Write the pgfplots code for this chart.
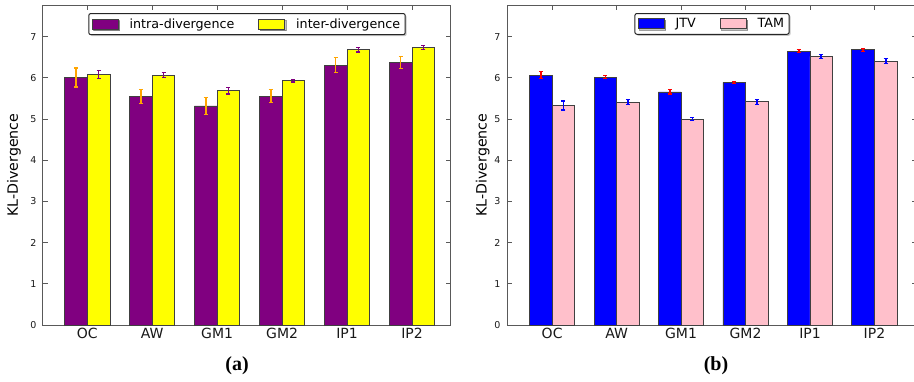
\documentclass[border=0pt]{standalone}
\usepackage{fontspec}
\setmainfont{DejaVu Sans}
\newfontfamily\capfont{Liberation Serif}
\usepackage{pgfplots}
\pgfplotsset{compat=1.18}
\usetikzlibrary{shadows}
\definecolor{mpurple}{RGB}{128,0,128}
\definecolor{myellow}{RGB}{255,255,0}
\definecolor{mblue}{RGB}{0,0,255}
\definecolor{mpink}{RGB}{255,192,203}
\definecolor{morange}{RGB}{255,165,0}
\definecolor{mred}{RGB}{255,0,0}
\pgfplotsset{
  kl/.style={
    scale only axis, height=320pt, ymin=0, ymax=7.77,
    ybar=0pt, bar width=0.35,
    xtick={0,1,2,3,4,5}, xticklabels={OC,AW,GM1,GM2,IP1,IP2},
    ytick={0,1,2,3,4,5,6,7},
    tick align=inside, major tick length=5pt,
    axis line style={black!65, line width=1pt},
    tick style={black!65, line width=0.8pt},
    /pgf/number format/assume math mode=true,
    xticklabel style={font=\fontsize{14}{16}\selectfont, text=black!90},
    yticklabel style={font=\fontsize{9.5}{11}\selectfont, text=black!90, xshift=-3pt},
    ylabel={KL-Divergence},
    ylabel style={font=\fontsize{14.2}{16}\selectfont, anchor=center},
    legend columns=2,
    legend style={at={(0.5,0.975)}, anchor=north, draw=black!85, line width=1pt,
      rounded corners=2pt, font=\fontsize{12.7}{14}\selectfont,
      inner xsep=3pt, inner ysep=3pt,
      drop shadow={shadow xshift=1.5pt, shadow yshift=-1.5pt, fill=black!45},
      /tikz/every odd column/.append style={column sep=9pt},
      /tikz/every even column/.append style={column sep=22pt}},
  },
  klbar/.style={draw=black!75, line width=0.8pt,
    legend image code/.code={\draw[##1, line width=0.8pt, sharp corners] (0pt,-5pt) rectangle (26pt,5pt);},
    error bars/.cd, y dir=both, y explicit,
    error bar style={line width=1.6pt, color=#1},
    error mark options={rotate=90, mark size=2pt, line width=1.1pt, color=#1}},
}
\begin{document}
\begin{tikzpicture}[x=1pt,y=1pt]
\useasboundingbox (0,0) rectangle (914,381);
\begin{axis}[kl, at={(43pt,56pt)}, anchor=south west, width=408pt,
  xmin=-0.68, xmax=5.6,
  ylabel style={at={(axis description cs:-0.071,0.5)}}]
\addplot[fill=mpurple, klbar=morange] coordinates {
  (0,6.01) +- (0,0.23)
  (1,5.55) +- (0,0.17)
  (2,5.32) +- (0,0.20)
  (3,5.56) +- (0,0.155)
  (4,6.31) +- (0,0.18)
  (5,6.38) +- (0,0.15)
};
\addplot[fill=myellow, klbar=mpurple] coordinates {
  (0,6.09) +- (0,0.095)
  (1,6.07) +- (0,0.065)
  (2,5.69) +- (0,0.08)
  (3,5.93) +- (0,0.03)
  (4,6.68) +- (0,0.05)
  (5,6.73) +- (0,0.05)
};
\legend{intra-divergence, inter-divergence}
\end{axis}
\begin{axis}[kl, at={(507pt,56pt)}, anchor=south west, width=410pt,
  xmin=-0.7, xmax=5.66,
  ylabel style={at={(axis description cs:-0.059,0.5)}}]
\addplot[fill=mblue, klbar=mred] coordinates {
  (0,6.07) +- (0,0.08)
  (1,6.02) +- (0,0.04)
  (2,5.66) +- (0,0.05)
  (3,5.89) +- (0,0.02)
  (4,6.65) +- (0,0.04)
  (5,6.68) +- (0,0.04)
};
\addplot[fill=mpink, klbar=mblue] coordinates {
  (0,5.33) +- (0,0.11)
  (1,5.41) +- (0,0.06)
  (2,5.00) +- (0,0.04)
  (3,5.42) +- (0,0.06)
  (4,6.52) +- (0,0.04)
  (5,6.41) +- (0,0.06)
};
\legend{JTV, TAM}
\end{axis}
\node[font=\capfont\bfseries\fontsize{20}{24}\selectfont] at (237,15) {(a)};
\node[font=\capfont\bfseries\fontsize{20}{24}\selectfont] at (716,15) {(b)};
\end{tikzpicture}
\end{document}
